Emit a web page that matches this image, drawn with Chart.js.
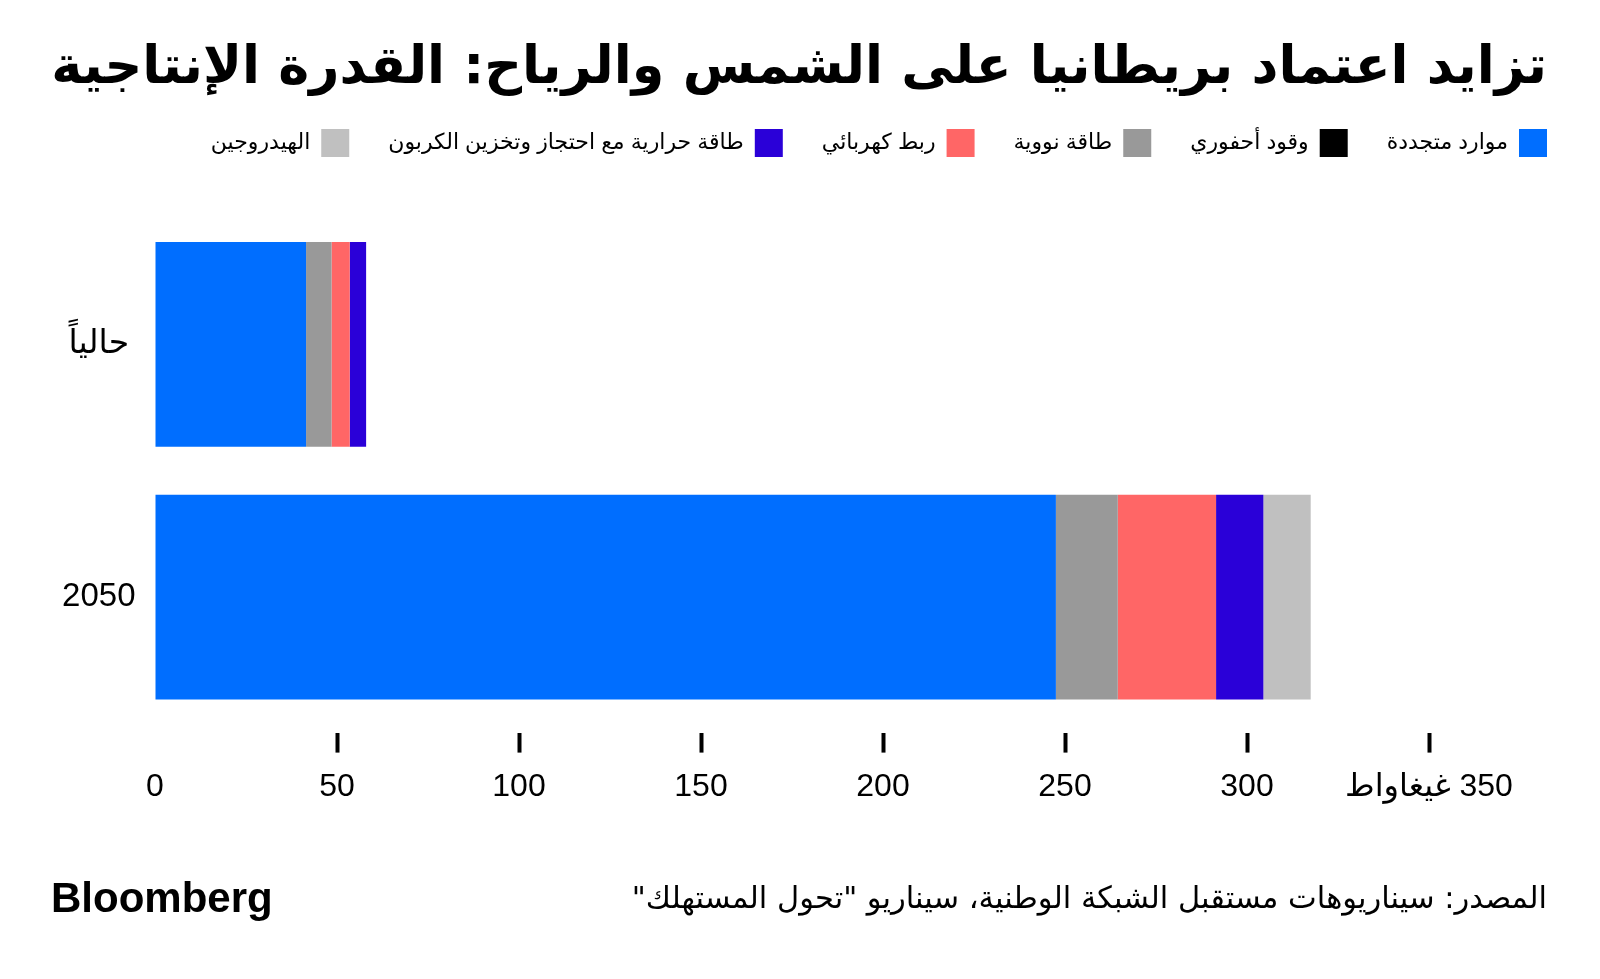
<!DOCTYPE html>
<html>
<head>
<meta charset="utf-8">
<script src="https://cdn.jsdelivr.net/npm/chart.js@4.4.1/dist/chart.umd.min.js"></script>
<style>
  html, body { margin: 0; padding: 0; background: #fff; }
  #wrap { width: 1600px; height: 979px; }
</style>
</head>
<body>
<div id="wrap"><canvas id="chart" dir="rtl"></canvas></div>
<script>
// categories (y axis) and series values in GW
const categories = ['حالياً', '2050'];
const renewables = [41.5, 247.5];
const fossil = [0, 0];
const nuclear = [7, 17];
const interconnect = [5, 27];
const ccs = [4.5, 13];
const hydrogen = [0, 13];

const seriesNames = ['موارد متجددة', 'وقود أحفوري', 'طاقة نووية', 'ربط كهربائي', 'طاقة حرارية مع احتجاز وتخزين الكربون', 'الهيدروجين'];
const seriesColors = ['#006eff', '#000000', '#999999', '#ff6666', '#2a00d8', '#c0c0c0'];
const xTickValues = [0, 50, 100, 150, 200, 250, 300, 350];
const unitLabel = 'غيغاواط';

const titleText = 'تزايد اعتماد بريطانيا على الشمس والرياح: القدرة الإنتاجية';
const sourceText = 'المصدر: سيناريوهات مستقبل الشبكة الوطنية، سيناريو "تحول المستهلك"';

const FONT = "'Liberation Sans', 'DejaVu Sans', sans-serif";

// title size so it spans the same width as the reference
const m = document.createElement('canvas').getContext('2d');
m.font = "bold 100px 'DejaVu Sans'";
const titleSize = Math.min(60, 100 * 1496 / m.measureText(titleText).width);

const LEGEND_PAD = 39;

const footer = {
  id: 'footer',
  // the legend starts one padding in from its right edge; push it out to line up with the title
  afterLayout(chart) {
    chart.legend.left += LEGEND_PAD;
    chart.legend.right += LEGEND_PAD;
  },
  afterDraw(chart) {
    const ctx = chart.ctx;
    ctx.save();
    ctx.fillStyle = '#000';
    ctx.direction = 'ltr';
    ctx.textAlign = 'left';
    ctx.textBaseline = 'alphabetic';
    ctx.font = "bold 42px 'Liberation Sans', sans-serif";
    ctx.fillText('Bloomberg', 51, 912);
    ctx.direction = 'rtl';
    ctx.textAlign = 'right';
    ctx.textBaseline = 'middle';
    ctx.font = "30.5px 'DejaVu Sans', sans-serif";
    ctx.fillText(sourceText, 1547, 900);
    ctx.restore();
  }
};

const allSeries = [renewables, fossil, nuclear, interconnect, ccs, hydrogen];

new Chart(document.getElementById('chart'), {
  type: 'bar',
  data: {
    labels: categories,
    datasets: allSeries.map((d, i) => ({
      label: seriesNames[i],
      data: d,
      backgroundColor: seriesColors[i],
      borderWidth: 0,
      barPercentage: 0.81,
      categoryPercentage: 1
    }))
  },
  options: {
    indexAxis: 'y',
    responsive: true,
    maintainAspectRatio: false,
    animation: false,
    layout: { padding: { left: 0, right: 53, top: 0, bottom: 158 } },
    scales: {
      x: {
        type: 'linear',
        position: 'bottom',
        stacked: true,
        min: 0,
        max: 350,
        border: { display: false },
        grid: {
          drawOnChartArea: false,
          drawTicks: true,
          tickLength: 29,
          tickWidth: 4,
          tickColor: c => (c.tick && c.tick.value === 0) ? 'rgba(0,0,0,0)' : '#000',
          tickBorderDash: [20, 9],
          tickBorderDashOffset: 20
        },
        afterBuildTicks: s => { s.ticks = xTickValues.map(v => ({ value: v })); },
        ticks: {
          padding: 15,
          color: '#000',
          maxRotation: 0,
          autoSkip: false,
          font: { size: 32, family: FONT },
          callback: v => v === 350 ? v + ' ' + unitLabel : String(v)
        }
      },
      xTop: {
        type: 'linear', axis: 'x', position: 'top', display: true,
        grid: { display: false }, border: { display: false }, ticks: { display: false },
        afterFit: s => { s.height = 51; }
      },
      y: {
        type: 'category',
        position: 'left',
        stacked: true,
        border: { display: false },
        grid: { display: false },
        ticks: { padding: 11.5, crossAlign: 'center', color: '#000', font: { size: 33, family: FONT } },
        afterFit: s => { s.width = 155; }
      },
      yRight: {
        type: 'linear', axis: 'y', position: 'right', display: true,
        grid: { display: false }, border: { display: false }, ticks: { display: false },
        afterFit: s => { s.width = 118; }
      }
    },
    plugins: {
      title: {
        display: true,
        text: titleText,
        align: 'end',
        rtl: true,
        color: '#000',
        font: { family: "'DejaVu Sans', sans-serif", size: titleSize, weight: 'bold', lineHeight: 0.8 },
        padding: { top: 69 - 0.4 * titleSize, bottom: 90 - (69 - 0.4 * titleSize) - 0.8 * titleSize }
      },
      legend: {
        display: true,
        position: 'top',
        align: 'start',
        rtl: true,
        labels: {
          boxWidth: 28,
          boxHeight: 28,
          padding: LEGEND_PAD,
          color: '#000',
          font: { size: 22, family: FONT }
        }
      },
      tooltip: { enabled: false }
    }
  },
  plugins: [footer]
});
</script>
</body>
</html>
